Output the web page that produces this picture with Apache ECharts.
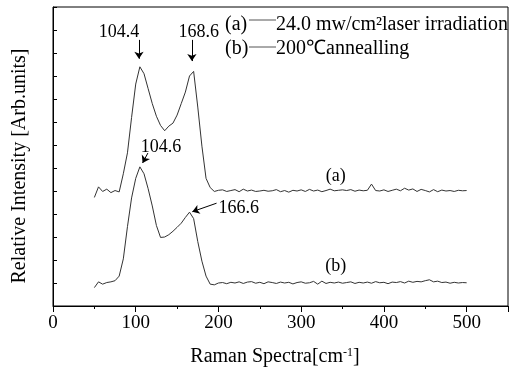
<!DOCTYPE html>
<html>
<head>
<meta charset="utf-8">
<script src="https://cdn.jsdelivr.net/npm/echarts@6/dist/echarts.min.js"></script>
<style>
  html, body { margin: 0; padding: 0; background: #fff; }
  #chart { width: 513px; height: 376px; }
</style>
</head>
<body>
<div id="chart"></div>
<script>
const ramanShift = [
  50, 55, 60, 65, 70, 75, 80, 85, 90, 95, 100, 105, 110, 115, 120, 125, 130, 135, 140, 145,
  150, 155, 160, 165, 170, 175, 180, 185, 190, 195, 200, 205, 210, 215, 220, 225, 230, 235, 240, 245,
  250, 255, 260, 265, 270, 275, 280, 285, 290, 295, 300, 305, 310, 315, 320, 325, 330, 335, 340, 345,
  350, 355, 360, 365, 370, 375, 380, 385, 390, 395, 400, 405, 410, 415, 420, 425, 430, 435, 440, 445,
  450, 455, 460, 465, 470, 475, 480, 485, 490, 495, 500
];

// (a) 24.0 mw/cm2 laser irradiation, offset up by 4 units
const intensityA = [
  4.72, 5.18, 4.98, 5.08, 4.93, 5.02, 4.96, 5.75, 6.66, 8.2, 9.65, 10.4, 10.1, 9.45, 8.8, 8.25, 7.85, 7.62, 7.82, 7.95,
  8.3, 8.8, 9.3, 10.0, 10.2, 8.65, 6.95, 5.55, 5.15, 4.98, 5.03, 5.05, 4.98, 5.02, 5.06, 4.97, 5.08, 5.0, 5.04, 4.98,
  5.0, 5.03, 4.99, 5.01, 5.06, 4.97, 5.02, 4.95, 5.03, 5.0, 5.05, 4.98, 5.07, 5.0, 5.04, 4.97, 5.02, 5.08, 5.01, 5.03,
  5.05, 5.02, 5.06, 4.99, 5.04, 5.01, 5.03, 5.3, 5.02, 5.0, 5.05, 4.98, 5.03, 5.08, 5.01, 5.12, 5.04, 5.09, 4.98, 5.07,
  5.02, 4.96, 5.06, 4.97, 5.04, 5.0, 5.02, 4.98, 5.03, 5.01, 5.02
];

// (b) 200C annealling
const intensityB = [
  0.8, 1.05, 0.95, 1.02, 1.05, 1.1, 1.3, 2.05, 3.45, 4.7, 5.55, 6.05, 5.75, 5.1, 4.35, 3.5, 2.98, 3.0, 3.1, 3.25,
  3.42, 3.6, 3.85, 4.08, 3.8, 2.8, 1.95, 1.3, 0.95, 0.92, 1.0, 1.02, 0.97, 1.03, 1.0, 1.05, 0.98, 1.04, 1.06, 0.99,
  1.03, 0.97, 1.05, 1.02, 0.98, 1.04, 1.0, 1.03, 0.96, 1.02, 1.05, 0.99, 1.01, 1.07, 0.95, 1.08, 0.98, 1.03, 1.0, 1.04,
  0.99, 1.02, 1.05, 0.98, 1.03, 1.0, 1.04, 0.99, 1.06, 1.01, 1.03, 0.97, 1.04, 1.02, 1.06, 1.0, 1.08, 1.03, 1.07, 1.05,
  1.1, 1.14, 1.05, 1.08, 1.02, 1.04, 0.99, 1.03, 1.0, 1.02, 1.01
];

const xTicks = [0, 100, 200, 300, 400, 500];

// peak labels: text, label position, arrow start, arrow end (data coords)
const peakNotes = [
  { text: '104.4', at: [79.7, 11.9], from: [103.9, 11.57], to: [103.9, 10.75] },
  { text: '168.6', at: [176.3, 11.9], from: [167.9, 11.57], to: [167.9, 10.65] },
  { text: '104.6', at: [130.4, 6.9], from: [114.7, 6.65], to: [108.3, 6.22] },
  { text: '166.6', at: [224.6, 4.26], from: [197.7, 4.47], to: [168.4, 4.1] }
];
const curveTags = [
  { text: '(a)', at: [341.8, 5.65] },
  { text: '(b)', at: [341.8, 1.74] }
];
const legendItems = ['24.0 mw/cm\u00b2laser irradiation', '200\u2103annealling'];

const FONT = '"Liberation Serif", "Times New Roman", serif';
const chart = echarts.init(document.getElementById('chart'));

const toPairs = ys => ys.map((y, i) => [ramanShift[i], y]);

chart.setOption({
  animation: false,
  backgroundColor: '#fff',
  grid: {
    left: 53,
    right: 5,
    top: 7,
    bottom: 70,
    show: true,
    borderColor: '#000',
    borderWidth: 1
  },
  xAxis: {
    type: 'value',
    min: 0,
    max: 550,
    interval: 100,
    axisLine: { lineStyle: { color: '#000', width: 1 } },
    axisTick: { inside: false, length: 6, lineStyle: { color: '#000' } },
    minorTick: { show: true, splitNumber: 2, length: 3, lineStyle: { color: '#000' } },
    splitLine: { show: false },
    axisLabel: {
      margin: 8,
      color: '#000',
      fontFamily: FONT,
      fontSize: 19,
      formatter: v => (xTicks.includes(v) ? String(v) : '')
    }
  },
  yAxis: {
    type: 'value',
    min: 0,
    max: 13,
    interval: 1,
    axisLine: { show: true, lineStyle: { color: '#000', width: 1 } },
    axisTick: { show: true, inside: true, length: 4, lineStyle: { color: '#000' } },
    splitLine: { show: false },
    axisLabel: { show: false }
  },
  series: [
    {
      name: 'a',
      type: 'line',
      data: toPairs(intensityA),
      showSymbol: false,
      silent: true,
      lineStyle: { color: '#333', width: 1 },
      markLine: {
        silent: true,
        symbol: ['none', 'arrow'],
        symbolSize: 7,
        label: { show: false },
        lineStyle: { type: 'solid', color: '#000', width: 1 },
        data: peakNotes.map(n => [{ coord: n.from }, { coord: n.to }])
      }
    },
    {
      name: 'b',
      type: 'line',
      data: toPairs(intensityB),
      showSymbol: false,
      silent: true,
      lineStyle: { color: '#333', width: 1 }
    }
  ]
});

// text overlays, placed from data coords once the grid is laid out
const txt = (x, y, text, size, extra) => ({
  type: 'text',
  x,
  y,
  silent: true,
  style: Object.assign({
    text,
    fill: '#000',
    font: size + 'px ' + FONT,
    align: 'center',
    verticalAlign: 'middle'
  }, extra || {})
});

const graphics = [];
peakNotes.concat(curveTags).forEach(n => {
  const p = chart.convertToPixel({ gridIndex: 0 }, n.at);
  graphics.push(txt(p[0], p[1], n.text, 18));
});

// legend block, top right
[[25, 20], [49, 47]].forEach(([ty, ly], i) => {
  graphics.push(txt(225, ty, i === 0 ? '(a)' : '(b)', 20, { align: 'left' }));
  graphics.push({
    type: 'line',
    silent: true,
    shape: { x1: 249, y1: ly, x2: 276, y2: ly },
    style: { stroke: '#555', lineWidth: 1 }
  });
  graphics.push(txt(276, ty, legendItems[i], 20, { align: 'left' }));
});

// axis titles
const yTitle = txt(20, 166, 'Relative Intensity [Arb.units]', 20);
yTitle.rotation = Math.PI / 2;
graphics.push(yTitle);
graphics.push({
  type: 'text',
  x: 275,
  y: 357,
  silent: true,
  style: {
    text: '{t|Raman Spectra[cm}{s|-1}{t|]}',
    align: 'center',
    verticalAlign: 'middle',
    rich: {
      t: { fontFamily: FONT, fontSize: 20, fill: '#000', color: '#000' },
      s: { fontFamily: FONT, fontSize: 12, fill: '#000', color: '#000', verticalAlign: 'top', padding: [0, 0, 9, 0] }
    }
  }
});

chart.setOption({ graphic: graphics });
</script>
</body>
</html>
